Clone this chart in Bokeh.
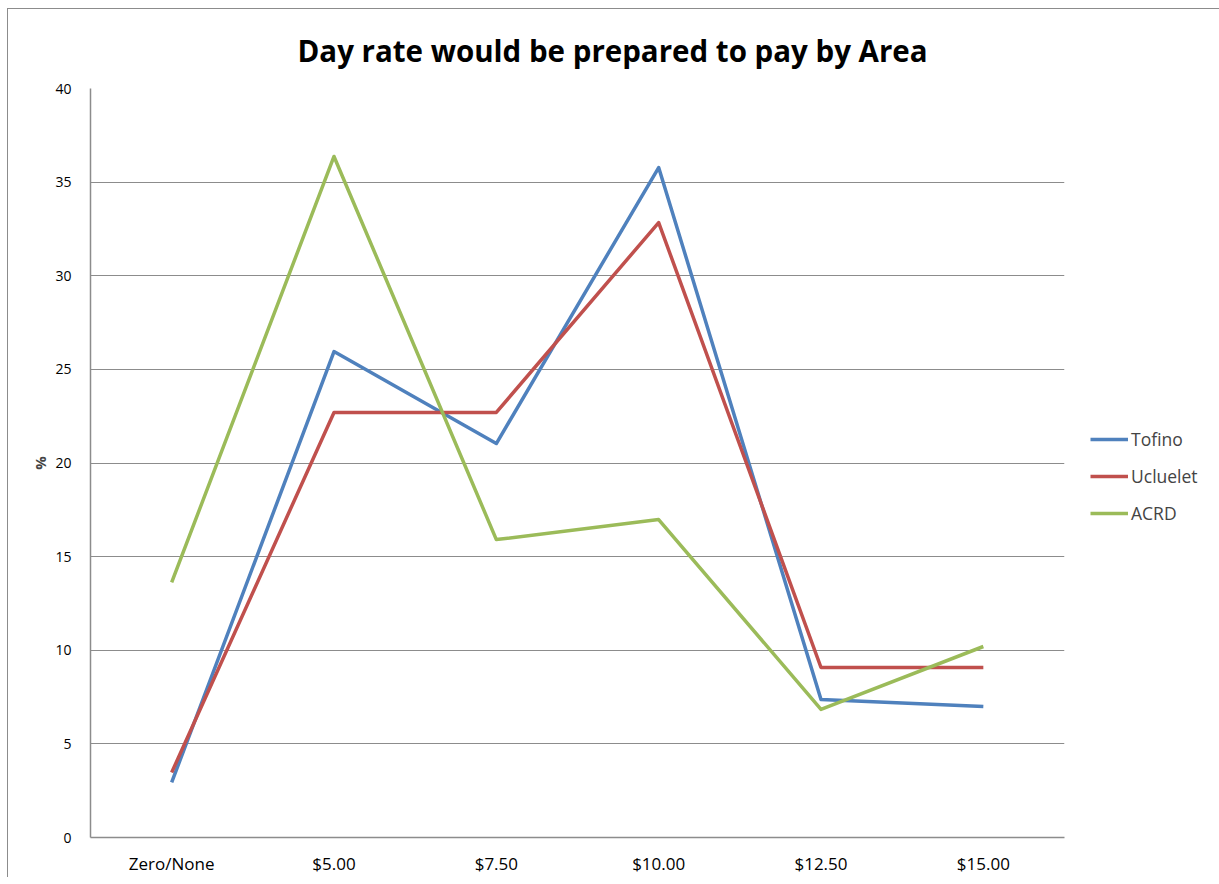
from bokeh.plotting import figure
from bokeh.models import Legend, LegendItem, Title, FactorRange, Range1d
from bokeh.embed import file_html
from bokeh.resources import INLINE

categories = ["Zero/None", "$5.00", "$7.50", "$10.00", "$12.50", "$15.00"]
tofino = [2.94, 25.95, 21.04, 35.78, 7.37, 7.0]
ucluelet = [3.47, 22.7, 22.7, 32.84, 9.08, 9.08]
acrd = [13.62, 36.37, 15.91, 16.98, 6.84, 10.2]
series_names = ["Tofino", "Ucluelet", "ACRD"]
series_colors = ["#4F81BD", "#C0504D", "#9BBB59"]
y_ticks = [0, 5, 10, 15, 20, 25, 30, 35, 40]
title_text = "Day rate would be prepared to pay by Area"

FONT = "Open Sans"

p = figure(x_range=FactorRange(*categories, range_padding=0),
           y_range=Range1d(0, 40),
           frame_width=974, frame_height=749,
           min_border_left=82, min_border_top=19, min_border_bottom=30,
           min_border_right=148,
           output_backend="svg", toolbar_location=None)
p.title = None
p.outline_line_color = None
p.background_fill_color = "white"
p.border_fill_color = "white"
p.styles = {"border-left": "1px solid #8c8c8c", "border-top": "1px solid #8c8c8c",
            "margin-left": "7px", "margin-top": "8px"}

t = Title(text=title_text, align="left",
          text_font=FONT, text_font_size="29.5px", text_font_style="bold",
          text_color="#000000", offset=207, standoff=36)
p.add_layout(t, "above")

renderers = []
for vals, name, col in zip([tofino, ucluelet, acrd], series_names, series_colors):
    r = p.line(categories, vals, line_color=col, line_width=3.5, line_join="round")
    renderers.append(r)

p.yaxis.ticker = y_ticks
p.yaxis.axis_label = "%"
p.yaxis.axis_label_text_font = FONT
p.yaxis.axis_label_text_font_size = "15px"
p.yaxis.axis_label_text_font_style = "bold"
p.yaxis.axis_label_standoff = 2
for ax in (p.xaxis, p.yaxis):
    ax.axis_line_color = "#8c8c8c"
    ax.axis_line_width = 1.5
    ax.major_tick_line_color = None
    ax.minor_tick_line_color = None
    ax.major_label_text_font = FONT
    ax.major_label_text_color = "#000000"
p.yaxis.major_label_text_font_size = "14px"
p.yaxis.major_label_standoff = 13
p.xaxis.major_label_text_font_size = "17px"
p.xaxis.major_label_standoff = 8

p.xgrid.grid_line_color = None
p.ygrid.grid_line_color = "#8c8c8c"
p.ygrid.grid_line_width = 1.2

legend = Legend(items=[LegendItem(label=n, renderers=[r]) for n, r in zip(series_names, renderers)],
                location=(26, 312), border_line_color=None, background_fill_alpha=0,
                label_text_font=FONT, label_text_font_size="17.5px",
                glyph_width=38, glyph_height=20, label_height=20,
                spacing=13, label_standoff=3, margin=0, padding=0)
p.add_layout(legend, "right")

open("out.html", "w").write(file_html(p, INLINE))
